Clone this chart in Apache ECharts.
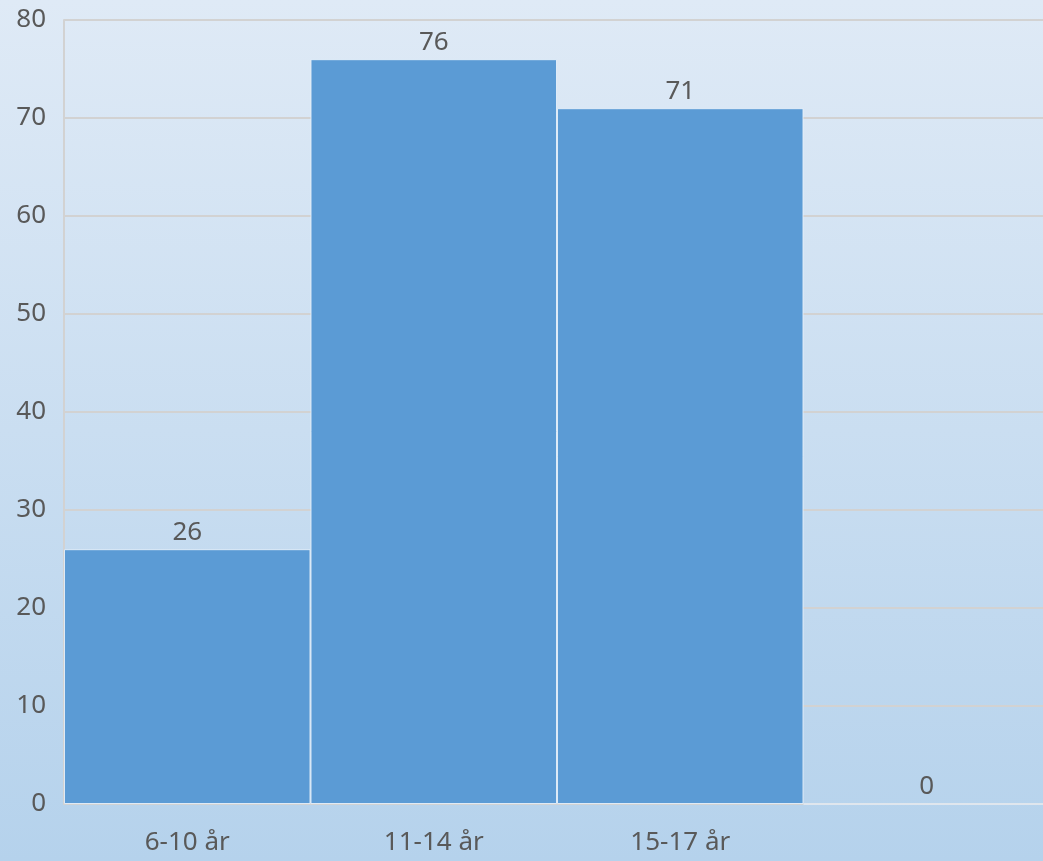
<!DOCTYPE html>
<html>
<head>
<meta charset="utf-8">
<script src="https://cdn.jsdelivr.net/npm/echarts@6/dist/echarts.min.js"></script>
<style>
html,body{margin:0;padding:0;overflow:hidden;width:1043px;height:861px;}
#c{width:1050px;height:861px;}
</style>
</head>
<body>
<div id="c"></div>
<script>
const categories = ["6-10 år", "11-14 år", "15-17 år", ""];
const values = [26, 76, 71, 0];
const yMin = 0, yMax = 80, yInterval = 10;

const chart = echarts.init(document.getElementById('c'));
chart.setOption({
  animation: false,
  backgroundColor: {
    type: 'linear', x: 0, y: 0, x2: 0, y2: 1,
    colorStops: [{offset: 0, color: '#dfeaf6'}, {offset: 1, color: '#b5d2ec'}]
  },
  grid: {left: 64, right: 0, top: 20, bottom: 57, containLabel: false},
  xAxis: {
    type: 'category',
    data: categories,
    axisLine: {show: true, lineStyle: {color: '#d2d2d2', width: 2}},
    axisTick: {show: false},
    axisLabel: {color: '#595959', fontSize: 26, fontFamily: 'Noto Sans', margin: 26}
  },
  yAxis: {
    type: 'value', min: yMin, max: yMax, interval: yInterval,
    axisLine: {show: true, lineStyle: {color: '#d2d2d2', width: 2}},
    axisTick: {show: false},
    splitLine: {lineStyle: {color: '#d2d2d2', width: 2}},
    axisLabel: {color: '#595959', fontSize: 26, fontFamily: 'Noto Sans', margin: 18}
  },
  series: [{
    type: 'bar',
    data: values,
    barCategoryGap: 0,
    itemStyle: {color: '#5b9bd5', borderColor: 'rgba(230,240,250,0.9)', borderWidth: 1},
    label: {show: true, position: 'top', color: '#595959', fontSize: 26, fontFamily: 'Noto Sans', distance: 4}
  }]
});
</script>
</body>
</html>
